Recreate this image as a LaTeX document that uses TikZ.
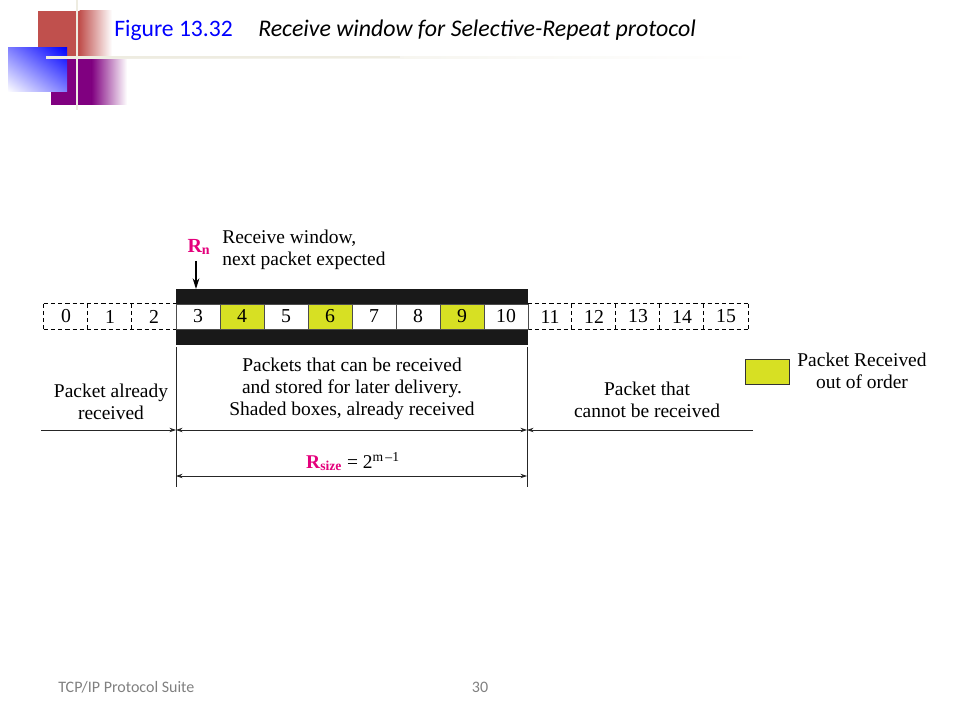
\documentclass[tikz,border=0pt]{standalone}
\usepackage{fontspec}
\setmainfont{Liberation Serif}
\newfontfamily\calibri{Carlito}
\usetikzlibrary{arrows.meta,shadings}
\definecolor{shadey}{RGB}{215,224,35}
\definecolor{rpink}{RGB}{228,0,124}
\definecolor{cream}{RGB}{238,236,225}
\definecolor{hred}{RGB}{192,80,77}
\definecolor{hpurple}{RGB}{128,0,128}
\definecolor{tblue}{RGB}{0,0,255}
\tikzset{
  txt/.style={font=\fontsize{14.6}{16.5}\selectfont, align=center, inner sep=0pt},
  cellbase/.style={minimum width=33pt, minimum height=18.75pt, inner sep=0pt, font=\fontsize{14.8}{16.5}\selectfont},
  wincell/.style={cellbase, draw=black!70, fill=white, line width=0.6pt},
  dashcell/.style={cellbase},
  dashline/.style={draw=black, dash pattern=on 3.2pt off 2.2pt, line width=0.6pt},
  tip/.style={-{Stealth[length=5pt,width=3.4pt]}},
  dtip/.style={{Stealth[length=5pt,width=3.4pt]}-{Stealth[length=5pt,width=3.4pt]}},
  thin line/.style={line width=0.6pt, draw=black!85}
}
\begin{document}
\begin{tikzpicture}[x=0.75pt,y=-0.75pt]
\useasboundingbox (0,0) rectangle (960,720);
% header decoration
\fill[hred] (38,11) rectangle (80,58);
\shade[left color=hred, right color=white] (79.5,11) rectangle (112,58);
\fill[hpurple] (51,58) rectangle (92,105);
\shade[left color=hpurple, right color=white] (91.5,58) rectangle (127,105);
\shade[lower left=white, upper right=tblue, upper left=tblue!50, lower right=tblue!50] (8,48) rectangle (67,92);
\draw[cream, line width=2.2pt] (77,0) -- (77,110);
\shade[left color=cream, right color=white, draw=none] (46,56.2) rectangle (760,58.2);
\fill[cream] (46,56.2) rectangle (400,58.2);
\node[anchor=base west, inner sep=0pt, font=\calibri\fontsize{17.7}{20}\selectfont, text=tblue] (fig) at (114,37) {Figure 13.32};
\node[anchor=base west, inner sep=0pt, font=\calibri\itshape\fontsize{17.9}{20}\selectfont] (title) at (258,37) {Receive window for Selective-Repeat protocol};
% black bars
\fill[black!90] (176,289) rectangle (528,304);
\fill[black!90] (176,329) rectangle (528,345);
% cells
\foreach \i in {0,1,2,11,12,13,14,15} {
  \node[dashcell] (c\i) at ({44+44*\i+22},316.5) {\i};
}
\draw[dashline] (c0.north west) -- (c2.north east);
\draw[dashline] (c0.south west) -- (c2.south east);
\foreach \i in {0,1,2} { \draw[dashline] (c\i.north west) -- (c\i.south west); }
\draw[dashline] (c11.north west) -- (c15.north east);
\draw[dashline] (c11.south west) -- (c15.south east);
\foreach \i in {11,12,13,14,15} { \draw[dashline] (c\i.north west) -- (c\i.south west); }
\draw[dashline] (c15.north east) -- (c15.south east);
\foreach \i in {3,5,7,8,10} {
  \node[wincell] (c\i) at ({44+44*\i+22},316.5) {\i};
}
\foreach \i in {4,6,9} {
  \node[wincell, fill=shadey] (c\i) at ({44+44*\i+22},316.5) {\i};
}
% Rn arrow
\node[inner sep=0pt, text=rpink, font=\fontsize{15}{16.5}\selectfont\bfseries] (rn) at (199,247) {R\textsubscript{n}};
\coordinate (rntip) at (196,289);
\draw[line width=0.9pt, -{Stealth[length=8pt,width=5pt]}] (196,261) -- (rntip);
\node[txt, align=left, anchor=north west] (rw) at (222,230) {Receive window,\\next packet expected};
% vertical boundaries
\coordinate (lt) at (176,347);
\coordinate (lb) at (176,487);
\coordinate (rt) at (527,347);
\coordinate (rb) at (527,487);
\draw[thin line] (lt) -- (lb);
\draw[thin line] (rt) -- (rb);
% horizontal arrows
\coordinate (la) at (41,430);
\coordinate (lm) at (176,430);
\coordinate (rm) at (527,430);
\coordinate (ra) at (753,430);
\draw[thin line, tip] (la) -- (lm);
\draw[thin line, dtip] (lm) -- (rm);
\draw[thin line, tip] (ra) -- (rm);
\coordinate (sl) at (176,476);
\coordinate (sr) at (527,476);
\draw[thin line, dtip] (sl) -- (sr);
% labels
\node[txt] (already) at (111,402) {Packet already\\received};
\node[txt] (canbe) at (352,389) {Packets that can be received\\and stored for later delivery.\\Shaded boxes, already received};
\node[txt] (cannot) at (647,400) {Packet that\\cannot be received};
\node[txt, anchor=base] (rsize) at (353,468) {\textcolor{rpink}{\bfseries R\textsubscript{size}} = 2\textsuperscript{m\,\textendash1}};
% legend
\node[draw=black!80, fill=shadey, minimum width=33pt, minimum height=18.75pt, inner sep=0pt, line width=0.6pt] (leg) at (767,371.5) {};
\node[txt] (legtxt) at (862,371) {Packet Received\\out of order};
% footer
\node[anchor=base west, inner sep=0pt, text=black!50, font=\calibri\fontsize{12}{14}\selectfont] (foot) at (58,692) {TCP/IP Protocol Suite};
\node[anchor=base, inner sep=0pt, text=black!50, font=\calibri\fontsize{12}{14}\selectfont] (page) at (480,692) {30};
\end{tikzpicture}
\end{document}
